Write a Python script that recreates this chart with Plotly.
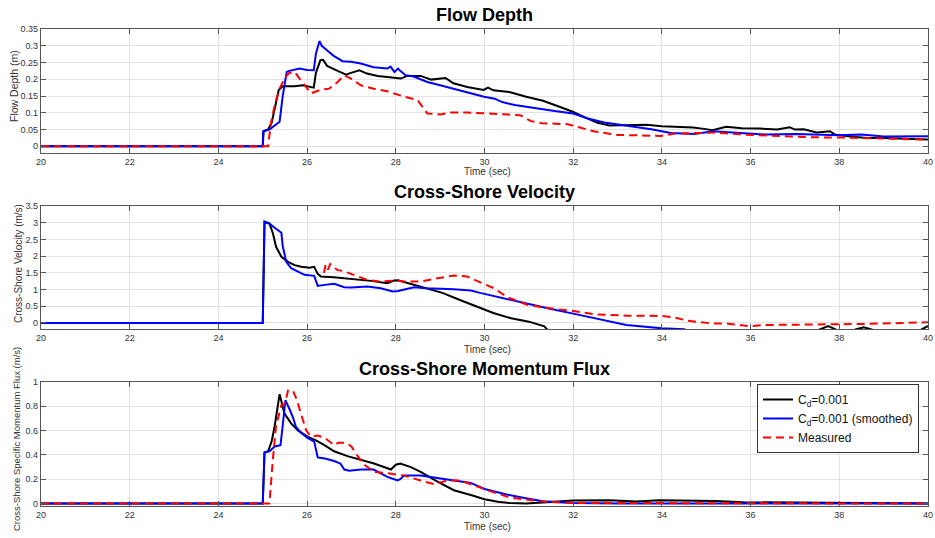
import plotly.graph_objects as go

W, H = 935, 538

# ---- Flow depth (m) ----
t_depth_cd = [20, 25.0, 25.02, 25.12, 25.2, 25.27, 25.36, 25.45, 25.72, 25.9, 26.15, 26.2, 26.3, 26.36,
              26.45, 26.69, 26.88, 26.99, 27.18, 27.35, 27.59, 27.81, 28.11, 28.26, 28.56, 28.8, 29.12,
              29.3, 29.61, 29.98, 30.08, 30.2, 30.56, 30.94, 31.32, 31.69, 31.99, 32.29, 32.55, 32.82,
              33.2, 33.65, 34.0, 34.7, 34.95, 35.14, 35.45, 35.8, 36.2, 36.6, 36.88, 37.0, 37.2, 37.49,
              37.79, 37.9, 38.2, 38.62, 39.0, 39.5, 40]
depth_cd = [0, 0, 0.045, 0.05, 0.07, 0.113, 0.168, 0.179, 0.179, 0.182, 0.175, 0.22, 0.257, 0.258,
            0.24, 0.225, 0.214, 0.219, 0.227, 0.217, 0.21, 0.207, 0.202, 0.21, 0.21, 0.199, 0.204,
            0.188, 0.177, 0.168, 0.175, 0.167, 0.162, 0.148, 0.136, 0.118, 0.103, 0.085, 0.07, 0.062,
            0.063, 0.064, 0.06, 0.056, 0.052, 0.048, 0.058, 0.054, 0.053, 0.05, 0.057, 0.05, 0.051, 0.041,
            0.045, 0.035, 0.03, 0.025, 0.025, 0.023, 0.02]

t_depth_sm = [20, 25.0, 25.01, 25.15, 25.38, 25.45, 25.54, 25.6, 25.83, 26.0, 26.15, 26.2, 26.28, 26.33,
              26.4, 26.6, 26.8, 26.99, 27.21, 27.5, 27.81, 27.88, 27.97, 28.05, 28.1, 28.22, 28.4, 28.71,
              29.0, 29.3, 29.6, 29.99, 30.23, 30.4, 30.68, 31.13, 31.58, 32.0, 32.33, 32.7, 33.23, 33.76,
              34.2, 34.74, 35.15, 35.5, 36.0, 36.35, 37.0, 38.0, 38.5, 39.0, 40]
depth_sm = [0, 0, 0.045, 0.05, 0.073, 0.15, 0.222, 0.225, 0.232, 0.228, 0.227, 0.277, 0.314, 0.3,
            0.292, 0.27, 0.254, 0.252, 0.247, 0.236, 0.232, 0.238, 0.222, 0.232, 0.225, 0.212, 0.208, 0.192,
            0.182, 0.172, 0.16, 0.148, 0.142, 0.132, 0.123, 0.113, 0.105, 0.098, 0.083, 0.071, 0.061, 0.051,
            0.04, 0.037, 0.045, 0.042, 0.038, 0.035, 0.037, 0.033, 0.035, 0.029, 0.03]

t_depth_meas = [20, 25.12, 25.19, 25.27, 25.38, 25.5, 25.6, 25.72, 25.83, 25.95, 26.09, 26.31, 26.5, 26.69,
                26.84, 26.99, 27.21, 27.5, 27.81, 28.19, 28.49, 28.71, 29.01, 29.24, 29.6, 30.06, 30.5,
                30.8, 31.05, 31.3, 31.88, 32.1, 32.48, 33.0, 33.98, 34.3, 35.19, 35.86, 36.58, 37.33,
                38.08, 39.0, 40]
depth_meas = [0, 0, 0.073, 0.123, 0.172, 0.205, 0.219, 0.222, 0.202, 0.18, 0.158, 0.169, 0.172, 0.192,
              0.212, 0.202, 0.182, 0.172, 0.164, 0.148, 0.138, 0.098, 0.095, 0.101, 0.101, 0.098, 0.095,
              0.093, 0.075, 0.069, 0.066, 0.058, 0.044, 0.034, 0.031, 0.038, 0.041, 0.035, 0.03, 0.027,
              0.026, 0.024, 0.02]

# ---- Cross-shore velocity (m/s) ----
t_vel_cd = [20, 25.0, 25.04, 25.15, 25.23, 25.3, 25.42, 25.57, 25.72, 25.87, 26.05, 26.16, 26.24, 26.31,
            26.6, 27.06, 27.44, 27.81, 27.96, 28.05, 28.34, 28.71, 29.05, 29.46, 29.91, 30.06, 30.2, 30.6,
            31.0, 31.35, 31.55, 37.4, 37.55, 37.75, 37.95, 38.25, 38.35, 38.55, 38.75, 39.7, 39.85, 40]
vel_cd = [0, 0, 3.03, 2.98, 2.68, 2.28, 1.98, 1.83, 1.73, 1.68, 1.65, 1.68, 1.47, 1.39,
          1.37, 1.32, 1.26, 1.19, 1.27, 1.28, 1.17, 1.01, 0.9, 0.68, 0.44, 0.36, 0.3, 0.14,
          0.04, -0.1, -0.4, -0.4, -0.2, -0.09, -0.2, -0.4, -0.2, -0.13, -0.2, -0.4, -0.2, -0.09]

t_vel_sm = [20, 25.0, 25.04, 25.15, 25.27, 25.38, 25.42, 25.45, 25.53, 25.64, 25.79, 25.94, 26.16, 26.24,
            26.4, 26.61, 26.84, 27.0, 27.36, 27.66, 27.93, 28.05, 28.41, 28.7, 29.31, 29.69, 29.9, 30.23,
            30.5, 31.0, 31.5, 32.0, 32.6, 33.2, 34.0, 34.5, 35.0, 40]
vel_sm = [0, 0, 3.03, 2.97, 2.85, 2.73, 2.7, 2.3, 1.83, 1.64, 1.54, 1.44, 1.41, 1.11,
          1.14, 1.17, 1.07, 1.06, 1.09, 1.04, 0.94, 0.96, 1.07, 1.04, 1.01, 0.97, 0.9, 0.8,
          0.72, 0.55, 0.42, 0.28, 0.1, -0.06, -0.16, -0.19, -0.4, -0.4]

t_vel_meas = [26.38, 26.42, 26.47, 26.52, 26.58, 26.69, 26.8, 27.06, 27.36, 27.66, 27.96, 28.19, 28.56,
              28.94, 29.31, 29.61, 29.91, 30.21, 30.53, 30.98, 31.58, 32.0, 32.48, 33.23, 33.98, 34.27,
              34.57, 35.1, 35.5, 36.0, 36.3, 37.0, 37.8, 38.5, 39.26, 40]
vel_meas = [1.5, 1.75, 1.6, 1.76, 1.7, 1.58, 1.56, 1.44, 1.29, 1.24, 1.27, 1.24, 1.24,
            1.34, 1.42, 1.39, 1.21, 1.04, 0.76, 0.54, 0.42, 0.36, 0.26, 0.22, 0.21, 0.17,
            0.07, -0.01, -0.02, -0.1, -0.06, -0.06, -0.04, -0.03, -0.01, 0.02]

# ---- Cross-shore specific momentum flux ----
t_flux_cd = [20, 25.0, 25.04, 25.12, 25.2, 25.27, 25.38, 25.44, 25.49, 25.64, 25.8, 26.01, 26.2, 26.39,
             26.61, 26.91, 27.21, 27.51, 27.81, 27.89, 28.0, 28.1, 28.34, 28.56, 28.94, 29.31, 29.69,
             30.0, 30.3, 30.56, 30.94, 31.54, 32.0, 32.82, 33.42, 33.95, 34.7, 35.22, 35.83, 36.95, 38.0, 40]
flux_cd = [0, 0, 0.42, 0.43, 0.51, 0.64, 0.9, 0.81, 0.74, 0.66, 0.6, 0.55, 0.52, 0.48,
           0.43, 0.39, 0.36, 0.33, 0.29, 0.28, 0.32, 0.33, 0.3, 0.26, 0.18, 0.11, 0.07,
           0.035, 0.015, 0.005, 0.0, 0.011, 0.025, 0.027, 0.018, 0.027, 0.027, 0.022, 0.011, 0.008, 0.003, 0]

t_flux_sm = [20, 25.0, 25.04, 25.15, 25.27, 25.4, 25.45, 25.51, 25.6, 25.68, 25.75, 25.87, 26.01, 26.16,
             26.24, 26.4, 26.61, 26.75, 26.84, 26.95, 27.21, 27.5, 27.81, 28.04, 28.1, 28.19, 28.56,
             28.94, 29.31, 29.69, 30.0, 30.43, 30.9, 31.32, 32.0, 33.0, 40]
flux_sm = [0, 0, 0.42, 0.43, 0.47, 0.48, 0.64, 0.85, 0.78, 0.71, 0.63, 0.58, 0.54, 0.51,
           0.38, 0.37, 0.35, 0.33, 0.28, 0.27, 0.28, 0.28, 0.22, 0.19, 0.2, 0.23, 0.23,
           0.21, 0.19, 0.17, 0.12, 0.08, 0.045, 0.02, 0.005, 0, 0]

t_flux_meas = [20, 25.15, 25.23, 25.3, 25.42, 25.5, 25.57, 25.68, 25.76, 25.87, 25.98, 26.09, 26.24, 26.4,
               26.61, 26.7, 26.88, 27.0, 27.14, 27.29, 27.51, 27.81, 28.19, 28.56, 28.86, 29.16, 29.46,
               29.76, 30.06, 30.56, 31.32, 32.0, 40]
flux_meas = [0, 0, 0.37, 0.64, 0.81, 0.82, 0.93, 0.93, 0.86, 0.73, 0.6, 0.55, 0.56, 0.54,
             0.48, 0.5, 0.5, 0.47, 0.39, 0.32, 0.26, 0.25, 0.23, 0.19, 0.16, 0.19, 0.19,
             0.15, 0.11, 0.05, 0.016, 0.005, 0]

panel_titles = ['Flow Depth', 'Cross-Shore Velocity', 'Cross-Shore Momentum Flux']
y_titles = ['Flow Depth (m)', 'Cross-Shore Velocity (m/s)', 'Cross-Shore Specific Momentum Flux (m/s)']
x_title = 'Time (sec)'
legend_names = ['C<sub>d</sub>=0.001', 'C<sub>d</sub>=0.001 (smoothed)', 'Measured']


def px(x):
    return x / W


def py(y):
    return 1 - y / H


FONT = 'Liberation Sans, Arial, sans-serif'
colors = ['#000000', '#0000ff', '#ff0000']
dashes = ['solid', 'solid', '8px,5px']

# pixel boxes for each panel: (top, bottom)
panels = [(29, 153), (206, 329), (382, 506)]
x_left, x_right = 41, 928
y_ranges = [[-0.02, 0.35], [-0.18, 3.5], [-0.02, 1.0]]
y_dticks = [0.05, 0.5, 0.2]
title_y = [15, 192, 369]
xlabel_y = [172, 349, 526]
ylabel_pos = [(14, 86), (18, 264), (16, 439)]
ylabel_size = [10.5, 10, 9.5]

series = [
    [(t_depth_cd, depth_cd), (t_depth_sm, depth_sm), (t_depth_meas, depth_meas)],
    [(t_vel_cd, vel_cd), (t_vel_sm, vel_sm), (t_vel_meas, vel_meas)],
    [(t_flux_cd, flux_cd), (t_flux_sm, flux_sm), (t_flux_meas, flux_meas)],
]

fig = go.Figure()

for i, group in enumerate(series):
    ax = '' if i == 0 else str(i + 1)
    for j, (t, v) in enumerate(group):
        fig.add_trace(go.Scatter(
            x=t, y=v, mode='lines',
            name=legend_names[j],
            showlegend=(i == 2),
            line=dict(color=colors[j], width=2, dash=dashes[j]),
            xaxis='x' + ax, yaxis='y' + ax,
        ))

axis_common = dict(
    showline=True, linecolor='#555555', linewidth=1.2, mirror='ticks',
    ticks='inside', ticklen=5, tickcolor='#555555', tickwidth=1,
    showgrid=True, gridcolor='#e2e2e2', gridwidth=1, zeroline=False,
    automargin=False,
    tickfont=dict(family=FONT, size=9, color='#333333'),
)

layout = dict(
    width=W, height=H,
    margin=dict(l=0, r=0, t=0, b=0, autoexpand=False),
    paper_bgcolor='white', plot_bgcolor='white',
    font=dict(family=FONT, color='#222222'),
    showlegend=True,
    legend=dict(
        x=px(919), y=py(384), xanchor='right', yanchor='top',
        bgcolor='white', bordercolor='#333333', borderwidth=1,
        font=dict(family=FONT, size=12, color='#111111'),
        tracegroupgap=0, itemwidth=30,
    ),
)

annotations = []
for i, (top, bot) in enumerate(panels):
    ax = '' if i == 0 else str(i + 1)
    layout['xaxis' + ax] = dict(
        axis_common, domain=[px(x_left), px(x_right)], range=[20, 40],
        dtick=2, tick0=20, anchor='y' + ax,
    )
    layout['yaxis' + ax] = dict(
        axis_common, domain=[py(bot), py(top)], range=y_ranges[i],
        dtick=y_dticks[i], tick0=0, anchor='x' + ax,
    )
    annotations.append(dict(
        text=panel_titles[i], x=px((x_left + x_right) / 2), y=py(title_y[i]),
        xref='paper', yref='paper', xanchor='center', yanchor='middle', showarrow=False,
        font=dict(family=FONT, size=18, color='#000000', weight='bold'),
    ))
    annotations.append(dict(
        text=x_title, x=px(487), y=py(xlabel_y[i]),
        xref='paper', yref='paper', xanchor='center', yanchor='middle', showarrow=False,
        borderpad=0,
        font=dict(family=FONT, size=10, color='#333333'),
    ))
    lx, ly = ylabel_pos[i]
    annotations.append(dict(
        text=y_titles[i], x=px(lx), y=py(ly), textangle=-90,
        xref='paper', yref='paper', xanchor='center', yanchor='middle', showarrow=False,
        font=dict(family=FONT, size=ylabel_size[i], color='#333333'),
    ))

layout['annotations'] = annotations
fig.update_layout(**layout)

# remove the default page margin so the figure sits at the window's top-left corner
fig.write_html("out.html", config={'displayModeBar': False},
               post_script="document.body.style.margin = '0';")
